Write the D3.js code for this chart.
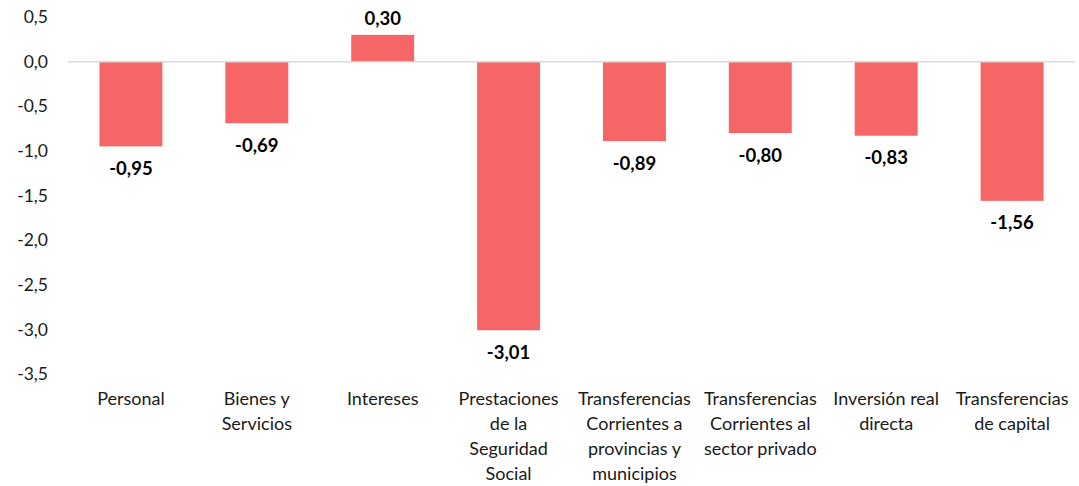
<!DOCTYPE html>
<html>
<head>
<meta charset="utf-8">
<script src="https://cdn.jsdelivr.net/npm/d3@7"></script>
<style>
  body { margin: 0; background: #fff; }
  text { font-family: Lato, "Open Sans", sans-serif; }
</style>
</head>
<body>
<svg id="chart"></svg>
<script>
// Chart data
const categories = [
  "Personal",
  "Bienes y Servicios",
  "Intereses",
  "Prestaciones de la Seguridad Social",
  "Transferencias Corrientes a provincias y municipios",
  "Transferencias Corrientes al sector privado",
  "Inversión real directa",
  "Transferencias de capital"
];
// Label lines as they wrap in the picture
const categoryLines = [
  ["Personal"],
  ["Bienes y", "Servicios"],
  ["Intereses"],
  ["Prestaciones", "de la", "Seguridad", "Social"],
  ["Transferencias", "Corrientes a", "provincias y", "municipios"],
  ["Transferencias", "Corrientes al", "sector privado"],
  ["Inversión real", "directa"],
  ["Transferencias", "de capital"]
];
const values = [-0.95, -0.69, 0.30, -3.01, -0.89, -0.80, -0.83, -1.56];
const yTicks = [0.5, 0, -0.5, -1, -1.5, -2, -2.5, -3, -3.5];

const width = 1079, height = 486;
const fmt = v => d3.format(".2f")(v).replace(".", ",").replace("−", "-");
const tickFmt = v => d3.format(".1f")(v).replace(".", ",").replace("−", "-");

const svg = d3.select("#chart")
  .attr("width", width)
  .attr("height", height);

// Scales
const x = d3.scaleBand()
  .domain(categories)
  .range([68, 1075])
  .paddingInner(0.5)
  .paddingOuter(0.25);

const y = d3.scaleLinear()
  .domain([0.5, -3.5])
  .range([17, 374]);

// Y tick labels (no axis line)
svg.append("g")
  .selectAll("text")
  .data(yTicks)
  .enter()
  .append("text")
  .attr("x", 48)
  .attr("y", d => y(d))
  .attr("dy", "0.35em")
  .attr("text-anchor", "end")
  .attr("font-size", 17.5)
  .attr("fill", "#1a1a1a")
  .text(tickFmt);

// Bars
svg.append("g")
  .selectAll("rect")
  .data(values)
  .enter()
  .append("rect")
  .attr("x", (d, i) => x(categories[i]))
  .attr("width", x.bandwidth())
  .attr("y", d => y(Math.max(0, d)))
  .attr("height", d => Math.abs(y(d) - y(0)))
  .attr("fill", "#F66666");

// Zero line
svg.append("line")
  .attr("x1", 68)
  .attr("x2", 1075)
  .attr("y1", y(0))
  .attr("y2", y(0))
  .attr("stroke", "#d9d9d9")
  .attr("stroke-width", 1.5);

// Value labels
svg.append("g")
  .selectAll("text")
  .data(values)
  .enter()
  .append("text")
  .attr("x", (d, i) => x(categories[i]) + x.bandwidth() / 2)
  .attr("y", d => d < 0 ? y(d) + 22 : y(d) - 16)
  .attr("dy", "0.35em")
  .attr("text-anchor", "middle")
  .attr("font-size", 18.5)
  .attr("font-weight", "bold")
  .attr("fill", "#000")
  .text(fmt);

// Category labels
const catG = svg.append("g")
  .selectAll("text")
  .data(categories)
  .enter()
  .append("text")
  .attr("x", d => x(d) + x.bandwidth() / 2)
  .attr("y", 399)
  .attr("text-anchor", "middle")
  .attr("font-size", 18)
  .attr("fill", "#1a1a1a");

catG.selectAll("tspan")
  .data((d, i) => categoryLines[i])
  .enter()
  .append("tspan")
  .attr("x", function () { return this.parentNode.getAttribute("x"); })
  .attr("dy", (d, i) => i === 0 ? "0.35em" : "25")
  .text(d => d);
</script>
</body>
</html>
